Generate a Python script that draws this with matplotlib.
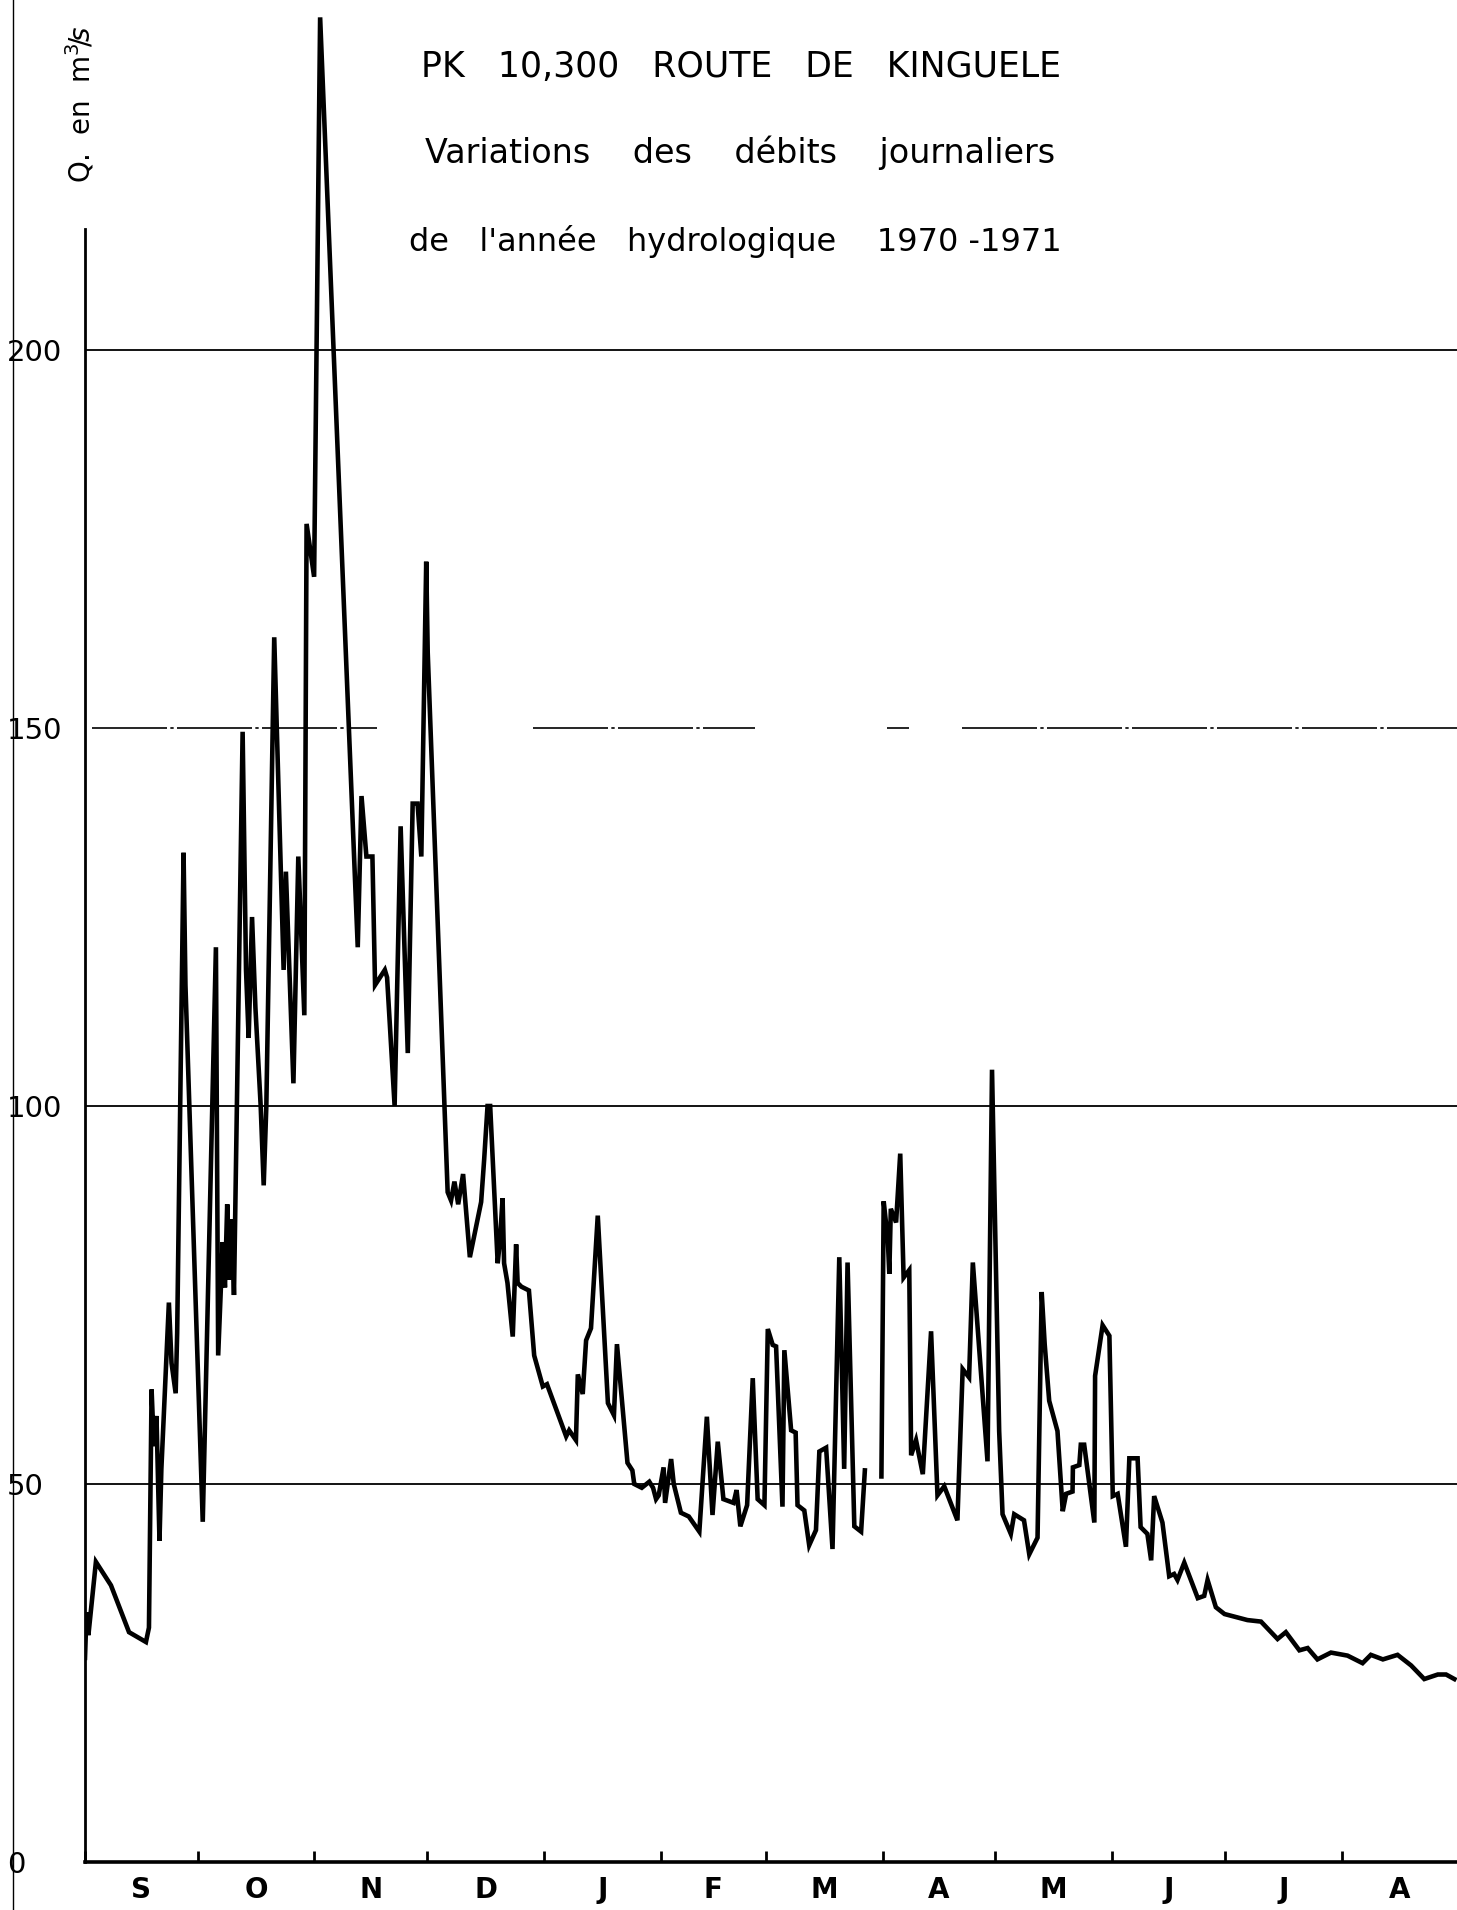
import numpy as np
import matplotlib
matplotlib.use("Agg")
import matplotlib.pyplot as plt
from matplotlib.lines import Line2D

# Hydrological year 1970-1971, days counted from 1 September 1970
months = ["S", "O", "N", "D", "J", "F", "M", "A", "M", "J", "J", "A"]
month_lengths = [30, 31, 30, 31, 31, 28, 31, 30, 31, 30, 31, 31]

# Daily discharge (m3/s) at the turning points of the hydrograph
day = [
    0, 0.4, 0.9, 2.9, 6.9, 11.7, 16.2, 17.0, 17.7, 18.3, 19.0, 19.8, 20.3,
    22.3, 23.0, 24.1, 24.5, 26.2, 26.7, 31.3, 34.8, 35.4, 36.6, 37.2, 37.8,
    38.4, 39.0, 39.6, 41.9, 42.8, 43.5, 44.4, 45.3, 46.7, 47.5, 48.2, 50.3,
    52.8, 53.4, 55.4, 56.7, 58.3, 58.9, 60.9, 62.5, 71.6, 72.5, 73.5, 74.8,
    76.4, 77.1, 79.7, 80.3, 82.3, 83.9, 85.8, 87.1, 88.4, 89.4, 90.7, 91.1,
    96.4, 97.3, 98.2, 99.2, 100.5, 102.3, 105.3, 106.1, 107.0, 107.7, 109.7,
    110.3, 111.0, 111.4, 112.3, 113.7, 114.6, 115.0, 116.0, 118.0, 119.4,
    121.7, 122.8, 127.9, 128.7, 130.5, 131.0, 132.3, 133.2, 134.5, 136.3,
    139.0, 140.6, 141.4, 144.2, 145.5, 146.0, 148.0, 150.0, 151.0, 151.8,
    152.5, 153.8, 154.2, 155.8, 156.5, 158.4, 160.5, 163.3, 165.3, 166.8,
    168.2, 169.7, 172.4, 173.2, 174.2, 176.0, 177.5, 178.8, 180.6, 181.5,
    182.8, 183.7, 185.4, 185.9, 187.7, 188.9, 189.4, 191.2, 192.5, 194.3,
    195.2, 197.0, 198.7, 200.5, 201.8, 202.7, 204.5, 206.3, 207.3, 209.5,
    211.7, 212.3, 213.4, 213.8, 214.2, 215.6, 216.7, 217.6, 219.1, 219.6,
    220.9, 222.7, 224.9, 226.6, 228.4, 231.9, 233.3, 235.0, 236.0, 239.9,
    241.1, 243.0, 243.9, 246.1, 247.0, 249.6, 251.0, 253.2, 254.3, 255.1,
    256.3, 258.5, 259.9, 260.8, 262.5, 262.6, 264.3, 264.7, 265.6, 268.3,
    268.5, 270.5, 272.3, 273.2, 274.5, 276.7, 277.6, 279.8, 280.6, 282.4,
    283.4, 284.2, 286.4, 288.2, 289.5, 290.4, 292.2, 295.8, 297.5, 298.4,
    300.6, 302.9, 309.0, 312.6, 317.0, 319.2, 322.8, 325.0, 327.6, 331.2,
    335.6, 339.6, 341.8, 345.0, 348.9, 352.5, 356.0, 359.6, 361.8, 364.0,
]
flow = [
    27, 33, 30, 39.7, 36.6, 30.4, 29.1, 31, 62.5, 55, 59, 42.5, 52,
    74, 66, 62, 70, 133.5, 116, 45, 121, 67, 82, 76, 87,
    77, 85, 75, 149.5, 118, 109, 125, 113, 100, 89.5, 100, 162,
    118, 131, 103, 133, 112, 177, 170, 244, 132, 121, 141, 133,
    133, 116, 118, 117, 100, 137, 107, 140, 140, 133, 172, 160,
    88.6, 87.5, 90, 87, 91, 80, 87.3, 92.9, 100, 100, 79.2,
    82.2, 87.8, 79.2, 76.6, 69.5, 81.7, 76.6, 76.1, 75.6, 67,
    62.9, 63.2, 56.3, 57.1, 55.8, 64.5, 61.9, 69, 70.6, 85.5,
    60.7, 59.1, 68.5, 52.8, 51.8, 50, 49.5, 50.3, 49.5, 48,
    48.5, 52.2, 47.5, 53.3, 50, 46.2, 45.7, 43.7, 58.9, 45.9,
    55.6, 48, 47.5, 49.2, 44.4, 47.2, 64, 48, 47.2, 70.5,
    68.4, 68.2, 47, 67.7, 57.1, 56.8, 47.2, 46.5, 41.9, 43.9,
    54.3, 54.8, 41.4, 80, 52, 79.3, 44.4, 43.7, 51.8, None,
    51, 87.4, 82.3, 77.8, 86.4, 84.6, 93.7, 77.3, 78.3, 53.8,
    55.8, 51.3, 70.2, 48.5, 49.7, 45.2, 65.2, 64.1, 79.3, 53,
    104.8, 57, 46, 43.4, 46, 45.2, 40.7, 42.9, 75.4, 68.5,
    61, 57, 46.4, 48.7, 49, 52.2, 52.5, 55.2, 55.2, 44.9,
    64.3, 71, 69.6, 48.4, 48.7, 41.7, 53.4, 53.4, 44.3, 43.4,
    39.9, 48.4, 44.9, 37.8, 38.1, 37.3, 39.6, 34.9, 35.2, 37.3,
    33.7, 32.8, 32, 31.8, 29.5, 30.4, 28, 28.3, 26.8, 27.7,
    27.3, 26.3, 27.4, 26.8, 27.4, 26, 24.2, 24.8, 24.8, 24.2,
]
y_ticks = [0, 50, 100, 150, 200]
y_ticklabels = ["0", "50", "100", "150", "200"]

title_lines = [
    "PK   10,300   ROUTE   DE   KINGUELE",
    "Variations    des    débits    journaliers",
    "de   l'année   hydrologique    1970 -1971",
]

W, H = 1457, 1910
fig = plt.figure(figsize=(W / 100, H / 100), dpi=100)
fig.patch.set_facecolor("white")

left_px, bottom_px, px_per_day, px_per_unit = 85, 48, 3.762, 7.56
ax = fig.add_axes([left_px / W, bottom_px / H,
                   365 * px_per_day / W, 1 - bottom_px / H])
ax.set_xlim(0, 365)
ax.set_ylim(0, (H - bottom_px) / px_per_unit)
ax.patch.set_alpha(0)

# horizontal reference lines
ax.axhline(200, color="black", lw=1.3, zorder=1)
ax.axhline(100, color="black", lw=1.3, zorder=1)
ax.axhline(50, color="black", lw=1.3, zorder=1)
for a, b in [(0.005, 0.213), (0.326, 0.488), (0.584, 0.60), (0.639, 1.0)]:
    ax.axhline(150, xmin=a, xmax=b, color="black", lw=1.2,
               ls=(0, (45, 2, 2, 2)), zorder=1)

# hydrograph
ax.plot(day, np.array(flow, dtype=float), color="black", lw=3.3,
        solid_joinstyle="miter", zorder=3)

# axes frame
for s in ("top", "right"):
    ax.spines[s].set_visible(False)
ax.spines["left"].set_bounds(0, 216)
ax.spines["left"].set_linewidth(2.0)
ax.spines["bottom"].set_linewidth(2.6)

bounds = np.concatenate([[0], np.cumsum(month_lengths)])
mids = (bounds[:-1] + bounds[1:]) / 2
ax.set_xticks(bounds)
ax.set_xticklabels([])
ax.tick_params(axis="x", which="major", direction="in", length=8, width=2)
ax.set_xticks(mids, minor=True)
ax.set_xticklabels(months, minor=True, fontsize=20, fontweight="bold")
ax.tick_params(axis="x", which="minor", length=0, pad=10)

ax.set_yticks(y_ticks)
ax.set_yticklabels(y_ticklabels, fontsize=21)
ax.tick_params(axis="y", length=0, pad=56)
for t in ax.get_yticklabels():
    t.set_horizontalalignment("left")

# axis title
fig.text(80 / W, 1 - 104 / H, "Q.  en  m$^{3}\\!/\\!s$", rotation=90,
         ha="center", va="center", fontsize=20)

# title block
for txt, (xc, yc), fs in zip(title_lines,
                             [(741, 67), (740, 153), (735, 241)],
                             [25, 24, 23]):
    fig.text(xc / W, 1 - yc / H, txt, ha="center", va="center", fontsize=fs)

# page border line on the left
fig.add_artist(Line2D([13 / W, 13 / W], [0, 1], color="black", lw=1.0,
                      transform=fig.transFigure))

fig.savefig("out.png", dpi=100, facecolor="white")
